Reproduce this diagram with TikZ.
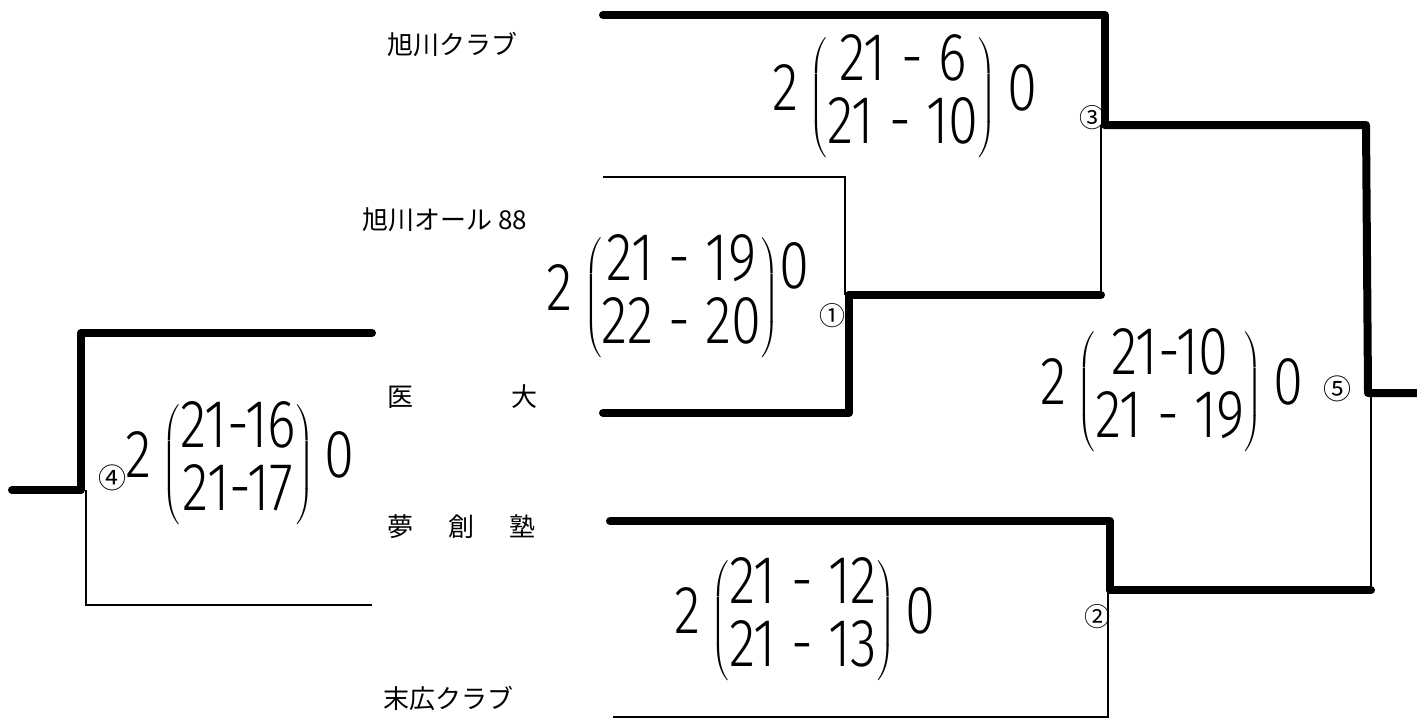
\documentclass[tikz,border=0pt]{standalone}
\usepackage{fontspec}
\newfontfamily\jpfont{Noto Sans CJK JP}
\newfontfamily\handfont{Fira Sans Light}[FakeStretch=0.8]
\usepackage{tikz}
\usetikzlibrary{positioning}
\newcommand{\gamescore}[2]{2\,$\left(\begin{tabular}{@{}c@{}}#1\\#2\end{tabular}\right)$\,0}

\begin{document}
\begin{tikzpicture}[
    x=0.5pt, y=-0.5pt,
    win/.style={line width=4pt, line cap=round, line join=round},
    lose/.style={line width=1pt},
    team/.style={font=\jpfont\fontsize{13pt}{13pt}\selectfont, anchor=west, inner sep=0pt},
    score/.style={font=\handfont\fontsize{34pt}{30pt}\selectfont, inner sep=0pt},
    gameno/.style={font=\jpfont\fontsize{13pt}{13pt}\selectfont, inner sep=0pt}
]
\useasboundingbox (0,0) rectangle (1417,723);

\node[team] (t1) at (387,45) {旭川クラブ};
    \node[team] (t2) at (362,220) {旭川オール 88};
    \node[team] (t3) at (387,397) {医\hspace{49pt}大};
    \node[team] (t4) at (387,527) {夢\hspace{17.5pt}創\hspace{17.5pt}塾};
    \node[team] (t5) at (383,698) {末広クラブ};

% game 1
\coordinate (g1a) at (603,177);
    \coordinate (g1b) at (845,177);
    \coordinate (g1c) at (845,295);
    \coordinate (g1d) at (849,295);
    \coordinate (g1e) at (849,413);
    \coordinate (g1f) at (603,413);
    \draw[lose] (g1a) -- (g1b) -- (g1c);
    \draw[win] (g1f) -- (g1e) -- (g1d);

% game 3
\coordinate (g3a) at (603,15);
    \coordinate (g3b) at (1105,15);
    \coordinate (g3c) at (1105,125);
    \coordinate (g3d) at (1101,125);
    \coordinate (g3e) at (1101,295);
    \draw[win] (g3a) -- (g3b) -- (g3c);
    \draw[lose] (g3d) -- (g3e);
    \draw[win] (g1d) -- (g3e);

% game 2
\coordinate (g2a) at (610,521);
    \coordinate (g2b) at (1110,521);
    \coordinate (g2c) at (1110,590);
    \coordinate (g2d) at (1108,590);
    \coordinate (g2e) at (1108,717);
    \coordinate (g2f) at (613,717);
    \draw[win] (g2a) -- (g2b) -- (g2c);
    \draw[lose] (g2d) -- (g2e) -- (g2f);

% game 5
\coordinate (g5a) at (1366,125);
    \coordinate (g5b) at (1368,393);
    \coordinate (g5c) at (1417,393);
    \coordinate (g5d) at (1371,393);
    \coordinate (g5e) at (1371,590);
    \draw[win] (g3c) -- (g5a) -- (g5b) -- (g5c);
    \draw[lose] (g5d) -- (g5e);
    \draw[win] (g2c) -- (g5e);

% game 4
\coordinate (g4a) at (372,333);
    \coordinate (g4b) at (81,333);
    \coordinate (g4c) at (81,490);
    \coordinate (g4d) at (12,490);
    \coordinate (g4e) at (86,490);
    \coordinate (g4f) at (86,605);
    \coordinate (g4g) at (372,605);
    \draw[win] (g4a) -- (g4b) -- (g4c) -- (g4d);
    \draw[lose] (g4e) -- (g4f) -- (g4g);

\node[score] (s3) at (905,98) {\gamescore{21 - 6}{21 - 10}};
    \node[score] (s1) at (678,298) {2\,$\left(\begin{tabular}{@{}c@{}}21 - 19\\22 - 20\end{tabular}\right)$\raisebox{11pt}{0}};
    \node[score] (s4) at (240,465) {\gamescore{21-16}{21-17}};
    \node[score] (s5) at (1172,392) {\gamescore{21-10}{21 - 19}};
    \node[score] (s2) at (805,621) {\gamescore{21 - 12}{21 - 13}};

\node[gameno] (n1) at (832,316) {①};
    \node[gameno] (n2) at (1097,617) {②};
    \node[gameno] (n3) at (1092,118) {③};
    \node[gameno, font=\jpfont\fontsize{14pt}{14pt}\selectfont] (n4) at (112,478) {④};
    \node[gameno, font=\jpfont\fontsize{14pt}{14pt}\selectfont] (n5) at (1337,389) {⑤};
\end{tikzpicture}
\end{document}
